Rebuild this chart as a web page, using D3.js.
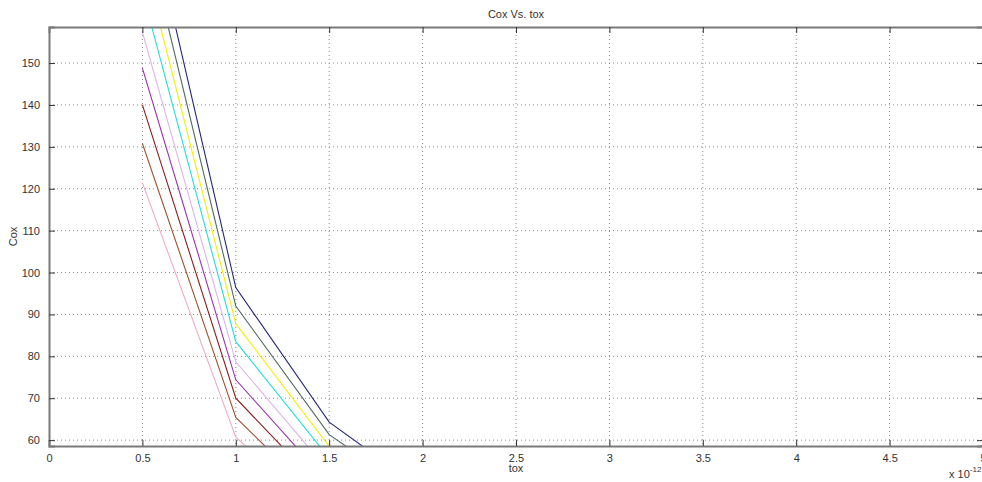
<!DOCTYPE html>
<html>
<head>
<meta charset="utf-8">
<script src="https://cdn.jsdelivr.net/npm/d3@7"></script>
<style>
  body { margin: 0; background: #fff; }
  text { font-family: "Liberation Sans", Arial, sans-serif; fill: #333; }
</style>
</head>
<body>
<div id="vis-container"></div>
<script>
const width = 982, height = 482;
const margin = {left: 49, right: -1, top: 27, bottom: 36};

// tox values (x 1e-12)
const toxValues = [0.5, 1, 1.5, 2];
// Cox values of each curve at the tox points above
const coxPink     = [121.4, 60.7, 40.5, 30.4];
const coxBrown    = [130.8, 65.4, 43.6, 32.7];
const coxDarkRed  = [140.0, 70.0, 46.7, 35.0];
const coxPurple   = [148.8, 74.4, 49.6, 37.2];
const coxLavender = [157.4, 78.7, 52.5, 39.4];
const coxCyan     = [167.0, 83.5, 55.7, 41.8];
const coxYellow   = [175.6, 87.8, 58.5, 43.9];
const coxGrey     = [184.0, 92.0, 61.3, 46.0];
const coxNavy     = [192.8, 96.4, 64.3, 48.2];

const seriesList = [coxPink, coxBrown, coxDarkRed, coxPurple, coxLavender, coxCyan, coxYellow, coxGrey, coxNavy];
const seriesColors = ["#eeaacc", "#a0522d", "#8b1c1c", "#9a2fb0", "#dcb4e6", "#22dede", "#f4f000", "#4d6b5a", "#26267a"];

const xTicks = [0, 0.5, 1, 1.5, 2, 2.5, 3, 3.5, 4, 4.5, 5];
const yTicks = [60, 70, 80, 90, 100, 110, 120, 130, 140, 150];

const svg = d3.select("#vis-container")
    .append("svg")
    .attr("width", width)
    .attr("height", height);

const x = d3.scaleLinear().domain([0, 5]).range([margin.left, width - margin.right]);
const y = d3.scaleLinear().domain([58.6, 158.6]).range([height - margin.bottom, margin.top]);

const x0 = x.range()[0], x1 = x.range()[1], y0 = y.range()[0], y1 = y.range()[1];

svg.append("defs").append("clipPath").attr("id", "plot-clip")
    .append("rect")
    .attr("x", x0).attr("y", y1)
    .attr("width", x1 - x0).attr("height", y0 - y1);

// grid
const grid = svg.append("g");
grid.selectAll(".gx").data(xTicks.slice(1, -1)).enter().append("line")
    .attr("x1", d => x(d)).attr("x2", d => x(d))
    .attr("y1", y1).attr("y2", y0)
    .attr("stroke", "#8a8a8a").attr("stroke-dasharray", "1,3");
grid.selectAll(".gy").data(yTicks).enter().append("line")
    .attr("x1", x0).attr("x2", x1)
    .attr("y1", d => y(d)).attr("y2", d => y(d))
    .attr("stroke", "#8a8a8a").attr("stroke-dasharray", "1,3");

// curves
const line = d3.line()
    .x((d, i) => x(toxValues[i]))
    .y(d => y(d));

svg.append("g").attr("clip-path", "url(#plot-clip)")
    .selectAll("path").data(seriesList).enter().append("path")
    .attr("d", d => line(d))
    .attr("fill", "none")
    .attr("stroke", (d, i) => seriesColors[i])
    .attr("stroke-width", 1.1);

// axes (MATLAB-like box with inward ticks)
const xAxisBottom = d3.axisBottom(x).tickValues(xTicks).tickSize(-6).tickPadding(8)
    .tickFormat(d3.format("~g"));
const xAxisTop = d3.axisTop(x).tickValues(xTicks).tickSize(-6).tickFormat("");
const yAxisLeft = d3.axisLeft(y).tickValues(yTicks).tickSize(-6).tickPadding(9);
const yAxisRight = d3.axisRight(y).tickValues(yTicks).tickSize(-6).tickFormat("");

function styleAxis(g) {
    g.select(".domain").attr("stroke", "#7a7a7a").attr("stroke-width", 2);
    g.selectAll(".tick line").attr("stroke", "#333");
    g.selectAll(".tick text").attr("font-size", 11).attr("fill", "#333")
        .attr("font-family", "Liberation Sans, Arial, sans-serif");
}

svg.append("g").attr("transform", `translate(0,${y0})`).call(xAxisBottom).call(styleAxis);
svg.append("g").attr("transform", `translate(0,${y1})`).call(xAxisTop).call(styleAxis);
svg.append("g").attr("transform", `translate(${x0},0)`).call(yAxisLeft).call(styleAxis);
svg.append("g").attr("transform", `translate(${x1},0)`).call(yAxisRight).call(styleAxis);

// labels
svg.append("text")
    .attr("x", (x0 + x1) / 2).attr("y", 18)
    .attr("text-anchor", "middle").attr("font-size", 11)
    .text("Cox Vs. tox");

svg.append("text")
    .attr("x", (x0 + x1) / 2).attr("y", 472)
    .attr("text-anchor", "middle").attr("font-size", 11)
    .text("tox");

svg.append("text")
    .attr("transform", `translate(17,${(y0 + y1) / 2}) rotate(-90)`)
    .attr("text-anchor", "middle").attr("font-size", 11)
    .text("Cox");

const mult = svg.append("text")
    .attr("x", 949).attr("y", 478)
    .attr("font-size", 11);
mult.append("tspan").text("x 10");
mult.append("tspan").attr("dy", -6).attr("font-size", 8).text("-12");
</script>
</body>
</html>
